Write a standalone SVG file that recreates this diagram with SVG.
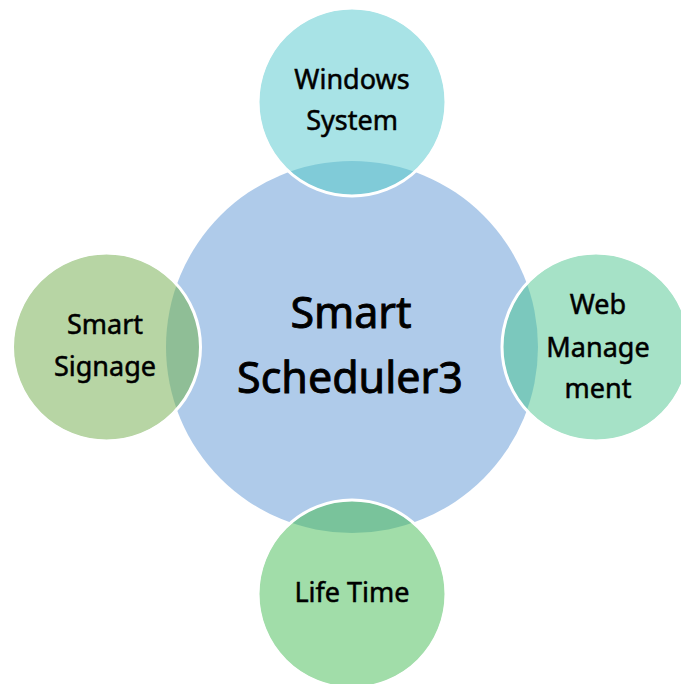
<svg xmlns="http://www.w3.org/2000/svg" width="681" height="684" viewBox="0 0 681 684">
<defs>
<clipPath id="centerClip"><circle cx="352" cy="347" r="186"/></clipPath>
<style>
text{font-family:"Noto Sans","Open Sans","DejaVu Sans",sans-serif;fill:#000;stroke:#000;text-anchor:middle}
.lbl{font-size:27px;stroke-width:0.5}
.big{font-size:43px;stroke-width:0.9}
.ring{fill:none;stroke:#fff;stroke-width:3}
</style>
</defs>
<rect width="681" height="684" fill="#fff"/>
<g id="center">
<circle cx="352" cy="347" r="186" fill="#AFCBEA"/>
<text class="big" x="351" y="328">Smart</text>
<text class="big" x="350" y="393">Scheduler3</text>
</g>
<g id="connectors"></g>
<g id="windows-system">
<circle cx="352" cy="102" r="93" fill="#A8E3E6"/>
<circle cx="352" cy="102" r="93" fill="#80CBD8" clip-path="url(#centerClip)"/>
<circle class="ring" cx="352" cy="102" r="94"/>
<text class="lbl" x="352" y="89">Windows</text>
<text class="lbl" x="352" y="130">System</text>
</g>
<g id="web-management">
<circle cx="596" cy="347" r="93" fill="#A6E2C7"/>
<circle cx="596" cy="347" r="93" fill="#7BC8BD" clip-path="url(#centerClip)"/>
<circle class="ring" cx="596" cy="347" r="94"/>
<text class="lbl" x="598" y="314">Web</text>
<text class="lbl" x="598" y="357">Manage</text>
<text class="lbl" x="598" y="398">ment</text>
</g>
<g id="smart-signage">
<circle cx="106.5" cy="347" r="93" fill="#B7D5A4"/>
<circle cx="106.5" cy="347" r="93" fill="#8FBE96" clip-path="url(#centerClip)"/>
<circle class="ring" cx="106.5" cy="347" r="94"/>
<text class="lbl" x="105" y="334">Smart</text>
<text class="lbl" x="105" y="376">Signage</text>
</g>
<g id="life-time">
<circle cx="352" cy="594" r="93" fill="#A1DDA9"/>
<circle cx="352" cy="594" r="93" fill="#79C39B" clip-path="url(#centerClip)"/>
<circle class="ring" cx="352" cy="594" r="94"/>
<text class="lbl" x="352" y="602">Life Time</text>
</g>
</svg>
